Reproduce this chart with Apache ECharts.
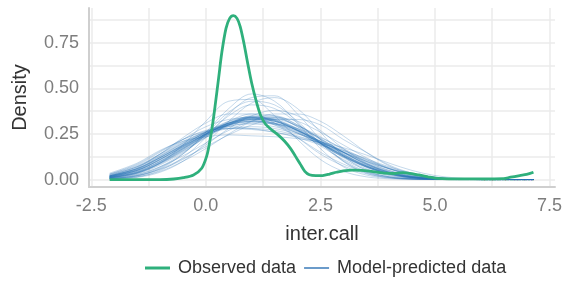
<!DOCTYPE html>
<html>
<head>
<meta charset="utf-8">
<script src="https://cdn.jsdelivr.net/npm/echarts@6/dist/echarts.min.js"></script>
<style>html,body{margin:0;padding:0;background:#fff}#c{width:563px;height:291px}</style>
</head>
<body>
<div id="c"></div>
<script>
// Observed density (x, y)
const obsX = [-2.1,-1.0,-0.7,-0.49,-0.27,-0.09,0.02,0.08,0.14,0.2,0.28,0.35,0.44,0.52,0.6,0.68,0.75,0.83,0.92,1.0,1.1,1.2,1.3,1.45,1.6,1.72,1.85,1.95,2.06,2.16,2.26,2.4,2.55,2.7,2.85,3.0,3.2,3.4,3.65,3.9,4.1,4.3,4.45,4.65,4.85,5.0,5.3,6.0,6.5,6.65,6.85,7.0,7.15];
const obsY = [0,0,0.003,0.01,0.025,0.062,0.13,0.2,0.29,0.40,0.56,0.70,0.83,0.885,0.90,0.885,0.84,0.75,0.63,0.53,0.43,0.35,0.305,0.27,0.24,0.21,0.17,0.13,0.085,0.045,0.026,0.021,0.022,0.03,0.04,0.048,0.052,0.05,0.044,0.035,0.033,0.038,0.034,0.025,0.015,0.008,0.004,0.004,0.005,0.013,0.022,0.028,0.04];

// Model-predicted densities, all evaluated on the same x grid
const predX = [-2.1,-1.5,-1.0,-0.5,0,0.5,1.0,1.5,2.0,2.5,3.0,3.5,4.0,4.5,5.0,5.5,6.0,7.15];
const draw01 = [0.005,0.02,0.06,0.14,0.26,0.39,0.47,0.43,0.31,0.17,0.07,0.025,0.008,0.002,0,0,0,0];
const draw02 = [0.004,0.015,0.05,0.12,0.23,0.36,0.45,0.46,0.36,0.22,0.1,0.035,0.01,0.002,0,0,0,0];
const draw03 = [0.01,0.035,0.09,0.19,0.32,0.43,0.44,0.35,0.22,0.11,0.045,0.015,0.004,0.001,0,0,0,0];
const draw04 = [0.003,0.012,0.04,0.1,0.2,0.32,0.42,0.45,0.39,0.26,0.13,0.05,0.015,0.004,0.001,0,0,0];
const draw05 = [0.015,0.05,0.11,0.18,0.25,0.31,0.34,0.32,0.27,0.2,0.13,0.07,0.03,0.01,0.003,0.001,0,0];
const draw06 = [0.02,0.06,0.12,0.19,0.26,0.31,0.33,0.31,0.26,0.2,0.13,0.075,0.035,0.012,0.004,0.001,0,0];
const draw07 = [0.012,0.04,0.09,0.16,0.24,0.3,0.34,0.34,0.29,0.22,0.15,0.085,0.04,0.015,0.005,0.001,0,0];
const draw08 = [0.018,0.055,0.115,0.185,0.25,0.3,0.32,0.31,0.27,0.21,0.15,0.09,0.045,0.018,0.006,0.002,0,0];
const draw09 = [0.025,0.07,0.13,0.2,0.25,0.28,0.29,0.28,0.25,0.21,0.16,0.11,0.065,0.03,0.012,0.004,0.001,0];
const draw10 = [0.028,0.075,0.14,0.21,0.26,0.28,0.28,0.27,0.24,0.2,0.155,0.105,0.06,0.028,0.01,0.003,0,0];
const draw11 = [0.01,0.035,0.085,0.155,0.235,0.305,0.35,0.35,0.3,0.22,0.14,0.075,0.033,0.012,0.003,0,0,0];
const draw12 = [0.008,0.028,0.07,0.13,0.2,0.27,0.32,0.34,0.32,0.26,0.19,0.12,0.06,0.025,0.008,0.002,0,0];
const draw13 = [0.006,0.022,0.058,0.115,0.18,0.245,0.3,0.33,0.33,0.3,0.22,0.15,0.08,0.035,0.012,0.003,0,0];
const draw14 = [0.022,0.07,0.14,0.22,0.29,0.33,0.34,0.3,0.23,0.15,0.085,0.04,0.016,0.005,0.001,0,0,0];
const draw15 = [0.016,0.05,0.105,0.175,0.245,0.305,0.335,0.325,0.275,0.205,0.135,0.075,0.035,0.013,0.004,0.001,0,0];
const draw16 = [0.014,0.045,0.1,0.17,0.24,0.3,0.33,0.32,0.28,0.21,0.14,0.08,0.037,0.014,0.004,0.001,0,0];
const draw17 = [0.03,0.08,0.15,0.22,0.27,0.29,0.28,0.26,0.23,0.19,0.15,0.1,0.06,0.03,0.012,0.004,0.001,0];
const draw18 = [0.012,0.04,0.095,0.17,0.25,0.32,0.36,0.35,0.29,0.2,0.12,0.06,0.025,0.008,0.002,0,0,0];
const draw19 = [0.02,0.06,0.125,0.195,0.26,0.305,0.32,0.3,0.255,0.195,0.135,0.08,0.04,0.016,0.005,0.001,0,0];
const draw20 = [0.005,0.02,0.055,0.11,0.19,0.28,0.35,0.38,0.35,0.27,0.17,0.09,0.04,0.014,0.004,0.001,0,0];
const draw21 = [0.015,0.05,0.11,0.18,0.25,0.305,0.33,0.32,0.27,0.2,0.13,0.07,0.03,0.01,0.003,0.001,0,0];
const draw22 = [0.03,0.085,0.155,0.22,0.265,0.28,0.275,0.26,0.235,0.2,0.16,0.115,0.07,0.035,0.013,0.004,0.001,0];
const draw23 = [0.01,0.035,0.09,0.165,0.245,0.315,0.345,0.33,0.275,0.2,0.125,0.068,0.03,0.01,0.003,0,0,0];
const draw24 = [0.02,0.065,0.14,0.23,0.31,0.36,0.36,0.31,0.23,0.14,0.075,0.032,0.011,0.003,0,0,0,0];
const draw25 = [0.018,0.055,0.12,0.19,0.255,0.3,0.315,0.305,0.265,0.21,0.15,0.095,0.05,0.02,0.007,0.002,0,0];
const draw26 = [0.012,0.042,0.098,0.17,0.245,0.31,0.34,0.33,0.28,0.205,0.135,0.075,0.034,0.012,0.003,0.001,0,0];
const draw27 = [0.006,0.022,0.065,0.14,0.25,0.37,0.43,0.41,0.32,0.2,0.1,0.04,0.012,0.003,0,0,0,0];
const draw28 = [0.02,0.06,0.12,0.185,0.245,0.29,0.31,0.305,0.28,0.23,0.17,0.11,0.06,0.025,0.009,0.003,0,0];
const draw29 = [0.01,0.038,0.092,0.165,0.24,0.3,0.335,0.335,0.295,0.225,0.15,0.085,0.04,0.015,0.004,0.001,0,0];
const draw30 = [0.016,0.052,0.11,0.18,0.25,0.31,0.335,0.32,0.27,0.2,0.13,0.072,0.032,0.011,0.003,0.001,0,0];
const draw31 = [0.035,0.09,0.16,0.21,0.235,0.245,0.24,0.235,0.225,0.205,0.175,0.135,0.09,0.05,0.022,0.008,0.002,0];
const draw32 = [0.004,0.015,0.045,0.1,0.17,0.25,0.32,0.36,0.36,0.32,0.24,0.15,0.075,0.03,0.01,0.003,0,0];
const draw33 = [0.013,0.045,0.1,0.175,0.25,0.31,0.34,0.325,0.27,0.195,0.125,0.068,0.03,0.01,0.003,0.001,0,0];
const draw34 = [0.02,0.062,0.128,0.2,0.265,0.31,0.325,0.305,0.255,0.19,0.125,0.072,0.035,0.013,0.004,0.001,0,0];
const draw35 = [0.009,0.032,0.08,0.15,0.23,0.3,0.345,0.345,0.3,0.225,0.15,0.085,0.04,0.014,0.004,0.001,0,0];
const draw36 = [0.024,0.07,0.135,0.205,0.26,0.295,0.305,0.29,0.255,0.205,0.15,0.1,0.058,0.026,0.009,0.003,0,0];
const draw37 = [0.007,0.026,0.07,0.145,0.245,0.35,0.41,0.39,0.31,0.2,0.105,0.045,0.015,0.004,0.001,0,0,0];
const draw38 = [0.016,0.05,0.11,0.185,0.26,0.32,0.345,0.325,0.265,0.185,0.11,0.055,0.022,0.007,0.002,0,0,0];
const draw39 = [0.011,0.038,0.088,0.158,0.232,0.295,0.33,0.33,0.295,0.235,0.165,0.1,0.05,0.02,0.006,0.001,0,0];
const draw40 = [0.018,0.058,0.12,0.19,0.255,0.3,0.32,0.31,0.27,0.21,0.145,0.088,0.045,0.018,0.006,0.002,0,0];
const predDraws = [draw01,draw02,draw03,draw04,draw05,draw06,draw07,draw08,draw09,draw10,draw11,draw12,draw13,draw14,draw15,draw16,draw17,draw18,draw19,draw20,draw21,draw22,draw23,draw24,draw25,draw26,draw27,draw28,draw29,draw30,draw31,draw32,draw33,draw34,draw35,draw36,draw37,draw38,draw39,draw40];

// Axis ticks
const xTickLabels = [-2.5,0,2.5,5,7.5];
const xGridValues = [-2.5,-1.25,0,1.25,2.5,3.75,5,6.25,7.5];
const yTickLabels = [0,0.25,0.5,0.75];
const yGridValues = [0,0.125,0.25,0.375,0.5,0.625,0.75,0.875];

const OBS_NAME = 'Observed data';
const PRED_NAME = 'Model-predicted data';
const GREEN = '#2fb07c';
const BLUE = '#2a72b4';
const BLUE_LEGEND = '#3a7ab8';

const zip = (xs, ys) => xs.map((x, i) => [x, ys[i]]);

const series = predDraws.map(d => ({
  type: 'line', name: PRED_NAME, data: zip(predX, d),
  showSymbol: false, symbol: 'none', smooth: 0.35, silent: true,
  lineStyle: { color: BLUE, width: 1, opacity: 0.27 },
  itemStyle: { color: BLUE }, z: 2
}));
series.push({
  type: 'line', name: OBS_NAME, data: zip(obsX, obsY),
  showSymbol: false, symbol: 'none', smooth: 0.3, silent: true,
  lineStyle: { color: GREEN, width: 2.8 }, itemStyle: { color: GREEN }, z: 5
});

const chart = echarts.init(document.getElementById('c'), null, { renderer: 'canvas' });
chart.setOption({
  animation: false,
  backgroundColor: '#fff',
  textStyle: { fontFamily: 'Liberation Sans, Arial, sans-serif' },
  grid: { left: 89, right: 8, top: 8, bottom: 104, containLabel: false, outerBoundsMode: 'none' },
  xAxis: {
    type: 'value', min: -2.55, max: 7.62,
    name: 'inter.call', nameLocation: 'middle', nameGap: 37,
    nameTextStyle: { fontSize: 20, color: '#333' },
    axisLine: { show: true, onZero: false, lineStyle: { color: '#cfcfcf', width: 2 } },
    axisTick: { show: false, customValues: xGridValues },
    axisLabel: { customValues: xTickLabels, fontSize: 18, color: '#7d7d7d', margin: 10,
      formatter: v => Number(v).toFixed(1) },
    splitLine: { show: true, lineStyle: { color: '#ebebeb', width: 1.5 } }
  },
  yAxis: {
    type: 'value', min: -0.041, max: 0.942,
    name: 'Density', nameLocation: 'middle', nameGap: 59, nameRotate: 90,
    nameTextStyle: { fontSize: 20, color: '#333' },
    axisLine: { show: true, onZero: false, lineStyle: { color: '#cfcfcf', width: 2 } },
    axisTick: { show: false, customValues: yGridValues },
    axisLabel: { customValues: yTickLabels, fontSize: 18, color: '#7d7d7d', margin: 10,
      formatter: v => Number(v).toFixed(2) },
    splitLine: { show: true, lineStyle: { color: '#ebebeb', width: 1.5 } }
  },
  legend: {
    bottom: 9, left: 140, itemGap: 8, itemWidth: 25, itemHeight: 14,
    textStyle: { fontSize: 18, color: '#333', padding: [0, 0, 0, 3] },
    data: [
      { name: OBS_NAME, icon: 'path://M0,0 L25,0 L25,3 L0,3 Z', itemStyle: { color: GREEN } },
      { name: PRED_NAME, icon: 'path://M0,0 L25,0 L25,1.5 L0,1.5 Z', itemStyle: { color: BLUE_LEGEND, opacity: 1 } }
    ]
  },
  series: series
});
</script>
</body>
</html>
